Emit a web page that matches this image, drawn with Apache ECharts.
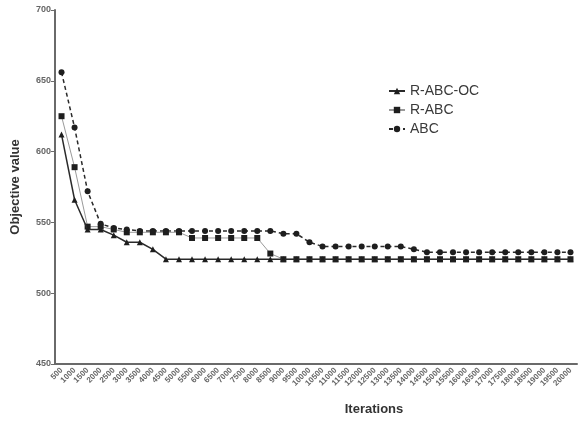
<!DOCTYPE html>
<html>
<head>
<meta charset="utf-8">
<script src="https://cdn.jsdelivr.net/npm/echarts@6/dist/echarts.min.js"></script>
<style>
    html, body { margin: 0; padding: 0; background: #fff; }
    #chart { width: 579px; height: 421px; }
</style>
</head>
<body>
<div id="chart"></div>
<script>
    // iterations 500 .. 20000
    const iterations = ['500', '1000', '1500', '2000', '2500', '3000', '3500', '4000', '4500', '5000',
        '5500', '6000', '6500', '7000', '7500', '8000', '8500', '9000', '9500', '10000',
        '10500', '11000', '11500', '12000', '12500', '13000', '13500', '14000', '14500', '15000',
        '15500', '16000', '16500', '17000', '17500', '18000', '18500', '19000', '19500', '20000']

    const rAbcOc = [612, 566, 545, 545, 541, 536, 536, 531, 524, 524,
        524, 524, 524, 524, 524, 524, 524, 524, 524, 524,
        524, 524, 524, 524, 524, 524, 524, 524, 524, 524,
        524, 524, 524, 524, 524, 524, 524, 524, 524, 524]

    const rAbc = [625, 589, 547, 547, 545, 543, 543, 543, 543, 543,
        539, 539, 539, 539, 539, 539, 528, 524, 524, 524,
        524, 524, 524, 524, 524, 524, 524, 524, 524, 524,
        524, 524, 524, 524, 524, 524, 524, 524, 524, 524]

    const abc = [656, 617, 572, 549, 546, 545, 544, 544, 544, 544,
        544, 544, 544, 544, 544, 544, 544, 542, 542, 536,
        533, 533, 533, 533, 533, 533, 533, 531, 529, 529,
        529, 529, 529, 529, 529, 529, 529, 529, 529, 529]

    const yTicks = {min: 450, max: 700, interval: 50}

    const chart = echarts.init(document.getElementById('chart'))
    const axisGray = '#6a6a6a'
    const option = {
        animation: false,
        backgroundColor: '#fff',
        grid: {left: 55, right: 2, top: 10, bottom: 55},
        legend: {
            orient: 'vertical',
            left: 383,
            top: 79,
            itemGap: 5,
            itemWidth: 16,
            itemHeight: 8,
            textStyle: {fontFamily: 'Liberation Sans', fontSize: 14, color: '#3a3a3a'},
            data: ['R-ABC-OC', 'R-ABC', 'ABC']
        },
        xAxis: {
            type: 'category',
            data: iterations,
            boundaryGap: true,
            name: 'Iterations',
            nameLocation: 'middle',
            nameGap: 39,
            nameTextStyle: {
                fontFamily: 'Liberation Sans', fontSize: 13, fontWeight: 'bold', color: '#333',
                padding: [0, 0, 0, 116]
            },
            axisLine: {lineStyle: {color: axisGray, width: 2}},
            axisTick: {alignWithLabel: true, length: 4, lineStyle: {color: axisGray, width: 1}},
            axisLabel: {
                interval: 0, rotate: 45, margin: 5,
                fontFamily: 'Liberation Sans', fontSize: 8, fontWeight: 'bold', color: '#666'
            },
            splitLine: {show: false}
        },
        yAxis: {
            type: 'value',
            min: yTicks.min,
            max: yTicks.max,
            interval: yTicks.interval,
            name: 'Objective value',
            nameLocation: 'middle',
            nameGap: 33,
            nameTextStyle: {fontFamily: 'Liberation Sans', fontSize: 13, fontWeight: 'bold', color: '#333'},
            axisLine: {show: true, lineStyle: {color: axisGray, width: 2}},
            axisTick: {show: true, length: 4, lineStyle: {color: axisGray, width: 1}},
            axisLabel: {margin: 4, fontFamily: 'Liberation Sans', fontSize: 9, fontWeight: 'bold', color: '#666'},
            splitLine: {show: false}
        },
        series: [
            {
                name: 'R-ABC-OC',
                type: 'line',
                data: rAbcOc,
                symbol: 'triangle',
                symbolSize: 6,
                itemStyle: {color: '#1e1e1e'},
                lineStyle: {color: '#2a2a2a', width: 1.5},
                z: 3
            },
            {
                name: 'R-ABC',
                type: 'line',
                data: rAbc,
                symbol: 'rect',
                symbolSize: 6,
                itemStyle: {color: '#1e1e1e'},
                lineStyle: {color: '#9a9a9a', width: 1},
                z: 2
            },
            {
                name: 'ABC',
                type: 'line',
                data: abc,
                symbol: 'circle',
                symbolSize: 6,
                itemStyle: {color: '#1e1e1e'},
                lineStyle: {color: '#2a2a2a', width: 1.5, type: [4, 3]},
                z: 1
            }
        ]
    }
    chart.setOption(option)
    window.addEventListener('resize', () => chart.resize())
</script>
</body>
</html>
